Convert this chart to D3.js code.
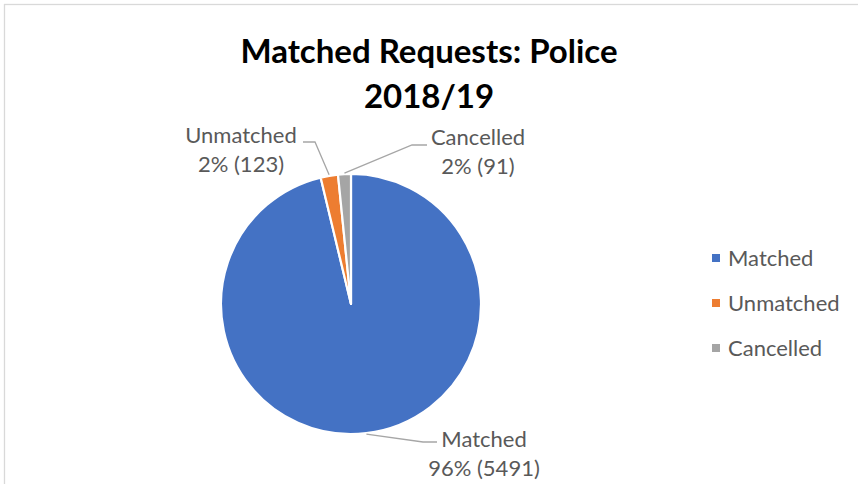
<!DOCTYPE html>
<html>
<head>
<meta charset="utf-8">
<script src="https://cdn.jsdelivr.net/npm/d3@7"></script>
<style>
  html, body { margin: 0; padding: 0; background: #ffffff; }
  svg { display: block; }
</style>
</head>
<body>
<svg id="chart" width="858" height="484"></svg>
<script>
// ---- data ----
const categories = ["Matched", "Unmatched", "Cancelled"];
const values = [5491, 123, 91];
const titleLines = ["Matched Requests: Police", "2018/19"];

// ---- style / layout ----
const colors = ["#4472C4", "#ED7D31", "#A5A5A5"];
const W = 858, H = 484;
const cx = 351, cy = 304, R = 130;
const font = "Lato, 'Open Sans', sans-serif";
const textColor = "#595959";
// label layout: elbow + text anchor per category
const labelLayout = [
  { elbow: [423, 442], end: [437, 442], tx: 484, ty: 447 },
  { elbow: [315, 142], end: [303, 142], tx: 241, ty: 143 },
  { elbow: [412, 145], end: [427, 145], tx: 478, ty: 145 }
];

const svg = d3.select("#chart");

// chart area border
svg.append("rect")
  .attr("x", 4.5).attr("y", 4.5)
  .attr("width", W + 20).attr("height", H + 20)
  .attr("fill", "#ffffff")
  .attr("stroke", "#d9d9d9").attr("stroke-width", 1.3);

// title
const title = svg.append("text")
  .attr("text-anchor", "middle")
  .attr("font-family", font)
  .attr("font-weight", "bold")
  .attr("font-size", 33)
  .attr("fill", "#000000");
titleLines.forEach((t, i) => {
  title.append("tspan").attr("x", 429).attr("y", 63 + i * 45).text(t);
});

// pie
const total = d3.sum(values);
const pie = d3.pie().sort(null).value(d => d)(values);
const arc = d3.arc().innerRadius(0).outerRadius(R);
const g = svg.append("g").attr("transform", `translate(${cx},${cy})`);

g.selectAll("path.slice")
  .data(pie)
  .join("path")
  .attr("class", "slice")
  .attr("d", arc)
  .attr("fill", (d, i) => colors[i])
  .attr("stroke", "#ffffff")
  .attr("stroke-width", 2.2)
  .attr("stroke-linejoin", "round");

// leader lines + data labels
pie.forEach((d, i) => {
  const mid = (d.startAngle + d.endAngle) / 2;
  const sx = cx + (R + 1) * Math.sin(mid);
  const sy = cy - (R + 1) * Math.cos(mid);
  const L = labelLayout[i];
  svg.append("polyline")
    .attr("points", [[sx, sy], L.elbow, L.end].map(p => p.join(",")).join(" "))
    .attr("fill", "none")
    .attr("stroke", "#A6A6A6")
    .attr("stroke-width", 1.3);
  const pct = Math.round(values[i] / total * 100);
  const t = svg.append("text")
    .attr("text-anchor", "middle")
    .attr("font-family", font)
    .attr("font-size", 22)
    .attr("fill", textColor);
  t.append("tspan").attr("x", L.tx).attr("y", L.ty).text(categories[i]);
  t.append("tspan").attr("x", L.tx).attr("y", L.ty + 29).text(`${pct}% (${values[i]})`);
});

// legend
const legend = svg.append("g");
categories.forEach((c, i) => {
  const y = 258 + i * 45;
  legend.append("rect")
    .attr("x", 712).attr("y", y - 4)
    .attr("width", 8).attr("height", 8)
    .attr("fill", colors[i]);
  legend.append("text")
    .attr("x", 728).attr("y", y + 8)
    .attr("font-family", font)
    .attr("font-size", 22)
    .attr("fill", textColor)
    .text(c);
});
</script>
</body>
</html>
